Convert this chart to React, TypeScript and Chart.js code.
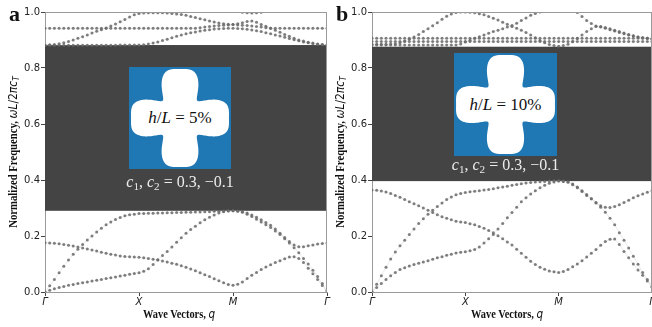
import React, { useEffect, useRef } from "react";
import { Chart, registerables } from "chart.js";
Chart.register(...registerables);

// ---- data ----
// path coordinate along Γ–X–M–Γ (0 = Γ, 1 = X, 2 = M, 3 = Γ), step 0.05
const kPath = [
  0, 0.05, 0.1, 0.15, 0.2, 0.25, 0.3, 0.35, 0.4, 0.45, 0.5, 0.55, 0.6, 0.65, 0.7, 0.75, 0.8, 0.85, 0.9, 0.95, 1.0,
  1.05, 1.1, 1.15, 1.2, 1.25, 1.3, 1.35, 1.4, 1.45, 1.5, 1.55, 1.6, 1.65, 1.7, 1.75, 1.8, 1.85, 1.9, 1.95, 2.0,
  2.05, 2.1, 2.15, 2.2, 2.25, 2.3, 2.35, 2.4, 2.45, 2.5, 2.55, 2.6, 2.65, 2.7, 2.75, 2.8, 2.85, 2.9, 2.95, 3.0,
];
const kTickLabels = ["Γ", "X", "M", "Γ"];
const yTickValues = [0, 0.2, 0.4, 0.6, 0.8, 1.0];

// panel a (h/L = 5%)
const gapA = [0.29, 0.882];
const aBandA = [
  0, 0.006, 0.012, 0.016, 0.02, 0.024, 0.027, 0.03, 0.033, 0.036, 0.039, 0.042, 0.045, 0.048, 0.051, 0.054, 0.057, 0.06, 0.063, 0.066, 0.069,
  0.074, 0.083, 0.098, 0.115, 0.13, 0.145, 0.161, 0.178, 0.194, 0.21, 0.223, 0.235, 0.247, 0.258, 0.267, 0.275, 0.282, 0.287, 0.289, 0.29,
  0.288, 0.285, 0.278, 0.27, 0.26, 0.25, 0.24, 0.23, 0.218, 0.205, 0.19, 0.175, 0.158, 0.14, 0.12, 0.1, 0.078, 0.055, 0.03, 0.005,
];
const aBandC = [
  0, 0.022, 0.045, 0.069, 0.092, 0.114, 0.135, 0.153, 0.17, 0.186, 0.2, 0.214, 0.228, 0.24, 0.25, 0.259, 0.266, 0.272, 0.276, 0.278, 0.28,
  0.28, 0.281, 0.281, 0.282, 0.282, 0.283, 0.283, 0.284, 0.284, 0.285, 0.285, 0.286, 0.286, 0.287, 0.287, 0.288, 0.288, 0.289, 0.29, 0.29,
  0.289, 0.287, 0.282, 0.275, 0.267, 0.258, 0.248, 0.238, 0.225, 0.21, 0.195, 0.18, 0.168, 0.162, 0.162, 0.165, 0.168, 0.171, 0.173, 0.175,
];
const aBandD = [
  0.176, 0.175, 0.174, 0.172, 0.17, 0.167, 0.164, 0.161, 0.157, 0.154, 0.15, 0.146, 0.142, 0.138, 0.135, 0.132, 0.129, 0.127, 0.126, 0.125, 0.124,
  0.122, 0.12, 0.117, 0.114, 0.111, 0.107, 0.103, 0.099, 0.094, 0.088, 0.082, 0.076, 0.069, 0.062, 0.055, 0.047, 0.04, 0.033, 0.027, 0.024,
  0.028, 0.036, 0.048, 0.06, 0.07, 0.08, 0.089, 0.097, 0.105, 0.112, 0.119, 0.125, 0.126, 0.12, 0.105, 0.085, 0.065, 0.045, 0.023, 0.002,
];
const aBandU1 = [
  0.942, 0.942, 0.942, 0.942, 0.942, 0.942, 0.942, 0.942, 0.942, 0.942, 0.942, 0.942, 0.942, 0.942, 0.942, 0.942, 0.942, 0.942, 0.942, 0.942, 0.942,
  0.942, 0.942, 0.942, 0.942, 0.942, 0.942, 0.942, 0.942, 0.942, 0.942, 0.942, 0.942, 0.944, 0.946, 0.948, 0.95, 0.952, 0.953, 0.954, 0.955,
  0.954, 0.953, 0.952, 0.95, 0.948, 0.946, 0.944, 0.942, 0.942, 0.942, 0.942, 0.942, 0.942, 0.942, 0.942, 0.942, 0.942, 0.942, 0.942, 0.942,
];
const aBandU2 = [
  0.882, 0.883, 0.884, 0.887, 0.89, 0.895, 0.9, 0.906, 0.912, 0.918, 0.925, 0.931, 0.937, 0.943, 0.95, 0.957, 0.965, 0.973, 0.982, 0.99, 0.995,
  0.996, 0.997, 0.997, 0.997, 0.997, 0.996, 0.995, 0.993, 0.991, 0.988, 0.984, 0.98, 0.976, 0.972, 0.968, 0.964, 0.961, 0.958, 0.956, 0.955,
  0.958, 0.962, 0.966, 0.968, 0.963, 0.955, 0.949, 0.942, 0.935, 0.928, 0.92, 0.913, 0.906, 0.9, 0.896, 0.892, 0.889, 0.886, 0.884, 0.882,
];
const aBandU3 = [
  0.881, 0.881, 0.881, 0.881, 0.881, 0.881, 0.881, 0.881, 0.881, 0.881, 0.881, 0.881, 0.881, 0.881, 0.881, 0.881, 0.882, 0.882, 0.882, 0.882, 0.882,
  0.883, 0.886, 0.889, 0.893, 0.898, 0.903, 0.908, 0.913, 0.918, 0.922, 0.926, 0.929, 0.932, 0.935, 0.937, 0.939, 0.94, 0.941, 0.942, 0.942,
  0.941, 0.94, 0.938, 0.936, 0.933, 0.93, 0.926, 0.922, 0.918, 0.914, 0.91, 0.905, 0.901, 0.897, 0.893, 0.89, 0.887, 0.885, 0.883, 0.882,
];
const aBandU4 = [
  null, null, null, null, null, null, null, null, null, null, null, null, null, null, null, null, null, null, null, null, null,
  null, null, null, null, null, null, null, null, null, null, null, null, null, null, null, null, null, null, null, null,
  null, 0.999, 0.997, 0.996, 0.997, 0.999, null, null, null, null, null, null, null, null, null, null, null, null, null, null,
];

// panel b (h/L = 10%)
const gapB = [0.396, 0.876];
const bBandA = [
  0, 0.016, 0.03, 0.045, 0.058, 0.07, 0.08, 0.087, 0.093, 0.098, 0.103, 0.107, 0.112, 0.117, 0.122, 0.126, 0.131, 0.135, 0.139, 0.142, 0.144,
  0.147, 0.152, 0.161, 0.175, 0.19, 0.205, 0.225, 0.245, 0.265, 0.284, 0.303, 0.322, 0.337, 0.35, 0.362, 0.372, 0.381, 0.388, 0.393, 0.396,
  0.395, 0.392, 0.383, 0.372, 0.359, 0.345, 0.333, 0.32, 0.303, 0.285, 0.263, 0.24, 0.212, 0.185, 0.157, 0.128, 0.099, 0.07, 0.045, 0.02,
];
const bBandC = [
  0, 0.028, 0.058, 0.088, 0.118, 0.143, 0.165, 0.185, 0.205, 0.225, 0.245, 0.262, 0.278, 0.292, 0.305, 0.318, 0.33, 0.339, 0.347, 0.352, 0.355,
  0.358, 0.36, 0.362, 0.364, 0.366, 0.369, 0.372, 0.375, 0.378, 0.381, 0.384, 0.387, 0.389, 0.391, 0.393, 0.394, 0.395, 0.396, 0.397, 0.397,
  0.396, 0.394, 0.386, 0.375, 0.362, 0.348, 0.333, 0.318, 0.308, 0.303, 0.302, 0.305, 0.312, 0.32, 0.328, 0.337, 0.344, 0.35, 0.356, 0.362,
];
const bBandD = [
  0.364, 0.363, 0.361, 0.357, 0.352, 0.345, 0.338, 0.33, 0.322, 0.315, 0.308, 0.3, 0.292, 0.284, 0.276, 0.269, 0.263, 0.258, 0.253, 0.25, 0.248,
  0.244, 0.24, 0.234, 0.228, 0.22, 0.212, 0.201, 0.19, 0.179, 0.168, 0.153, 0.138, 0.124, 0.11, 0.098, 0.088, 0.081, 0.075, 0.072, 0.07,
  0.073, 0.08, 0.09, 0.1, 0.112, 0.125, 0.138, 0.152, 0.167, 0.18, 0.188, 0.189, 0.17, 0.145, 0.122, 0.1, 0.079, 0.06, 0.039, 0.018,
];
const bBandV1 = [
  0.906, 0.906, 0.906, 0.906, 0.906, 0.906, 0.906, 0.906, 0.906, 0.906, 0.906, 0.906, 0.906, 0.906, 0.906, 0.906, 0.906, 0.906, 0.906, 0.906, 0.906,
  0.906, 0.906, 0.906, 0.906, 0.906, 0.906, 0.906, 0.906, 0.906, 0.906, 0.906, 0.906, 0.906, 0.906, 0.906, 0.906, 0.906, 0.906, 0.906, 0.906,
  0.906, 0.906, 0.906, 0.906, 0.906, 0.906, 0.906, 0.906, 0.906, 0.906, 0.906, 0.906, 0.906, 0.906, 0.906, 0.906, 0.906, 0.906, 0.906, 0.906,
];
const bBandV2 = [
  0.895, 0.895, 0.895, 0.895, 0.895, 0.895, 0.895, 0.895, 0.895, 0.895, 0.895, 0.895, 0.895, 0.895, 0.895, 0.895, 0.895, 0.895, 0.895, 0.895, 0.895,
  0.895, 0.895, 0.895, 0.895, 0.895, 0.895, 0.895, 0.895, 0.895, 0.895, 0.895, 0.895, 0.895, 0.895, 0.895, 0.895, 0.895, 0.895, 0.895, 0.895,
  0.895, 0.895, 0.895, 0.895, 0.895, 0.895, 0.895, 0.895, 0.895, 0.895, 0.895, 0.895, 0.895, 0.895, 0.895, 0.895, 0.895, 0.895, 0.895, 0.895,
];
const bBandV3 = [
  0.885, 0.885, 0.885, 0.885, 0.886, 0.887, 0.89, 0.896, 0.903, 0.911, 0.92, 0.93, 0.94, 0.951, 0.962, 0.974, 0.985, 0.993, 0.998, 1.0, 1.0,
  0.999, 0.997, 0.994, 0.99, 0.984, 0.978, 0.971, 0.963, 0.956, 0.948, 0.942, 0.935, 0.927, 0.918, 0.908, 0.898, 0.89, 0.884, 0.88, 0.878,
  0.88, 0.885, 0.894, 0.905, 0.918, 0.93, 0.94, 0.948, 0.948, 0.945, 0.94, 0.935, 0.93, 0.925, 0.92, 0.915, 0.911, 0.908, 0.906, 0.904,
];
const bBandV4 = [
  0.882, 0.882, 0.882, 0.882, 0.882, 0.882, 0.882, 0.882, 0.882, 0.882, 0.882, 0.882, 0.882, 0.882, 0.882, 0.882, 0.882, 0.882, 0.882, 0.886, 0.893,
  0.899, 0.906, 0.912, 0.918, 0.924, 0.93, 0.935, 0.94, 0.946, 0.952, 0.96, 0.97, 0.979, 0.988, 0.995, 1.0, null, null, null, null,
  null, null, null, 0.998, 0.984, 0.97, 0.959, 0.95, 0.946, 0.942, 0.937, 0.932, 0.927, 0.922, 0.918, 0.914, 0.911, 0.908, 0.906, 0.904,
];

const panelABands = [aBandA, aBandC, aBandD, aBandU1, aBandU2, aBandU3, aBandU4];
const panelBBands = [bBandA, bBandC, bBandD, bBandV1, bBandV2, bBandV3, bBandV4];

// inset shape parameters (from the label c1, c2 = 0.3, -0.1)
const shapeC1 = 0.3;
const shapeC2 = -0.1;

const gapPlugin = {
  id: "gap",
  beforeDatasetsDraw(chart: any, _args: any, opts: any) {
    const { ctx, chartArea, scales } = chart;
    const yTop = scales.y.getPixelForValue(opts.high);
    const yBot = scales.y.getPixelForValue(opts.low);
    ctx.save();
    ctx.fillStyle = opts.color;
    ctx.fillRect(chartArea.left, yTop, chartArea.right - chartArea.left, yBot - yTop);
    ctx.restore();
  },
  afterDraw(chart: any) {
    const { ctx, chartArea } = chart;
    ctx.save();
    ctx.strokeStyle = "#9a9a9a";
    ctx.lineWidth = 1;
    ctx.beginPath();
    ctx.moveTo(chartArea.left, chartArea.top + 0.5);
    ctx.lineTo(chartArea.right, chartArea.top + 0.5);
    ctx.moveTo(chartArea.right - 0.5, chartArea.top);
    ctx.lineTo(chartArea.right - 0.5, chartArea.bottom);
    ctx.stroke();
    ctx.restore();
  },
};

function BandChart(props: { bands: (number | null)[][]; gap: number[]; width: number; yAxisW: number; padRight: number }) {
  const ref = useRef<HTMLCanvasElement>(null);
  useEffect(() => {
    const tickFont = { family: "DejaVu Sans", size: 10 };
    const chart = new Chart(ref.current as HTMLCanvasElement, {
      type: "scatter",
      data: {
        datasets: props.bands.map((b) => ({
          data: kPath.map((x, i) => ({ x, y: b[i] as any })),
          showLine: true,
          spanGaps: false,
          borderColor: "rgba(175,175,175,0.45)",
          borderWidth: 0.6,
          pointRadius: 1.5,
          pointBackgroundColor: "rgba(105,105,105,0.85)",
          pointBorderWidth: 0,
        })),
      },
      options: {
        responsive: false,
        animation: false,
        devicePixelRatio: 1,
        layout: { padding: { left: 0, right: props.padRight, top: 12, bottom: 0 } },
        plugins: {
          legend: { display: false },
          tooltip: { enabled: false },
          gap: { low: props.gap[0], high: props.gap[1], color: "#444444" },
        } as any,
        scales: {
          x: {
            type: "linear",
            min: 0,
            max: 3,
            afterBuildTicks: (s: any) => {
              s.ticks = kTickLabels.map((_, i) => ({ value: i }));
            },
            ticks: {
              callback: (v: any) => kTickLabels[Math.round(v)],
              font: { ...tickFont, style: "italic" },
              color: "#222",
              padding: 0,
              maxRotation: 0,
              autoSkip: false,
            },
            grid: { drawOnChartArea: false, drawTicks: true, tickLength: 4, color: "#444" },
            border: { color: "#9a9a9a" },
            afterFit: (s: any) => {
              s.height = 35;
            },
          },
          y: {
            min: 0,
            max: 1,
            afterBuildTicks: (s: any) => {
              s.ticks = yTickValues.map((v) => ({ value: v }));
            },
            ticks: {
              callback: (v: any) => Number(v).toFixed(1),
              font: tickFont,
              color: "#222",
              padding: 1,
            },
            grid: { drawOnChartArea: false, drawTicks: true, tickLength: 4, color: "#444" },
            border: { color: "#9a9a9a" },
            afterFit: (s: any) => {
              s.width = props.yAxisW;
            },
          },
        },
      } as any,
      plugins: [gapPlugin as any],
    });
    return () => chart.destroy();
  }, []);
  return <canvas ref={ref} width={props.width} height={327} style={{ width: props.width, height: 327, display: "block" }} />;
}

function shapePath(size: number) {
  const r0 = (0.48 * size) / (1 + shapeC1 + shapeC2);
  const c = size / 2;
  const pts: string[] = [];
  for (let i = 0; i <= 360; i++) {
    const t = (i * Math.PI) / 180;
    const r = r0 * (1 + shapeC1 * Math.cos(4 * t) + shapeC2 * Math.cos(8 * t));
    pts.push(`${(c + r * Math.cos(t)).toFixed(2)},${(c + r * Math.sin(t)).toFixed(2)}`);
  }
  return "M" + pts.join("L") + "Z";
}

const serifBold: React.CSSProperties = { fontFamily: "'Liberation Serif', 'Times New Roman', serif", fontWeight: "bold" };
const mathIt: React.CSSProperties = { fontFamily: "'DejaVu Sans', sans-serif", fontStyle: "italic", fontWeight: "normal" };
const subStyle: React.CSSProperties = { fontSize: "0.7em", verticalAlign: "-0.25em", lineHeight: 0 };

function Inset(props: { left: number; top: number; size: number; pct: string; textTop: number }) {
  const { left, top, size } = props;
  return (
    <>
      <div style={{ position: "absolute", left, top, width: size, height: size, background: "#1f77b4" }}>
        <svg width={size} height={size} style={{ position: "absolute", left: 0, top: 0 }}>
          <path d={shapePath(size)} fill="#ffffff" />
        </svg>
        <div
          style={{
            position: "absolute",
            left: 0,
            top: size / 2 - 10,
            width: size,
            height: 20,
            lineHeight: "20px",
            textAlign: "center",
            fontFamily: "'Liberation Serif', serif",
            fontSize: 17,
            color: "#111",
            whiteSpace: "nowrap",
          }}
        >
          <i>h</i>/<i>L</i> = {props.pct}
        </div>
      </div>
      <div
        style={{
          position: "absolute",
          left: left - 30,
          top: props.textTop - 10,
          width: size + 60,
          height: 20,
          lineHeight: "20px",
          textAlign: "center",
          fontFamily: "'Liberation Serif', serif",
          fontSize: 16,
          color: "#ececec",
          whiteSpace: "nowrap",
        }}
      >
        <i>c</i>
        <span style={subStyle}>1</span>, <i>c</i>
        <span style={subStyle}>2</span> = 0.3, −0.1
      </div>
    </>
  );
}

function YTitle(props: { cx: number; cy: number }) {
  return (
    <div
      style={{
        position: "absolute",
        left: props.cx,
        top: props.cy,
        transform: "translate(-50%, -50%) rotate(-90deg) scaleX(0.89)",
        whiteSpace: "nowrap",
        fontSize: 12,
        lineHeight: "14px",
        color: "#111",
      }}
    >
      <span style={serifBold}>Normalized Frequency, </span>
      <span style={mathIt}>ωL</span>
      <span style={{ fontFamily: "'DejaVu Sans', sans-serif" }}>/2</span>
      <span style={mathIt}>πc</span>
      <span style={{ ...mathIt, ...subStyle }}>T</span>
    </div>
  );
}

function XTitle(props: { cx: number; cy: number }) {
  return (
    <div
      style={{
        position: "absolute",
        left: props.cx,
        top: props.cy,
        transform: "translate(-50%, -50%) scaleX(0.8)",
        whiteSpace: "nowrap",
        fontSize: 13,
        lineHeight: "16px",
        color: "#111",
      }}
    >
      <span style={serifBold}>Wave Vectors, </span>
      <span style={mathIt}>q</span>
    </div>
  );
}

function PanelLabel(props: { x: number; text: string }) {
  return (
    <div style={{ position: "absolute", left: props.x, top: 2, fontSize: 22, lineHeight: "24px", color: "#111", ...serifBold }}>
      {props.text}
    </div>
  );
}

export default function App() {
  return (
    <div style={{ position: "fixed", left: 0, top: 0, width: 652, height: 327, overflow: "hidden", background: "#fff" }}>
      <div style={{ position: "absolute", left: 0, top: 0 }}>
        <BandChart bands={panelABands} gap={gapA} width={340} yAxisW={45} padRight={13} />
      </div>
      <div style={{ position: "absolute", left: 330, top: 0 }}>
        <BandChart bands={panelBBands} gap={gapB} width={332} yAxisW={42} padRight={10} />
      </div>
      <Inset left={129} top={67} size={102} pct="5%" textTop={182} />
      <Inset left={454} top={53} size={103} pct="10%" textTop={165} />
      <YTitle cx={13} cy={152} />
      <YTitle cx={340} cy={152} />
      <XTitle cx={179} cy={314} />
      <XTitle cx={507} cy={314} />
      <PanelLabel x={9} text="a" />
      <PanelLabel x={336} text="b" />
    </div>
  );
}
